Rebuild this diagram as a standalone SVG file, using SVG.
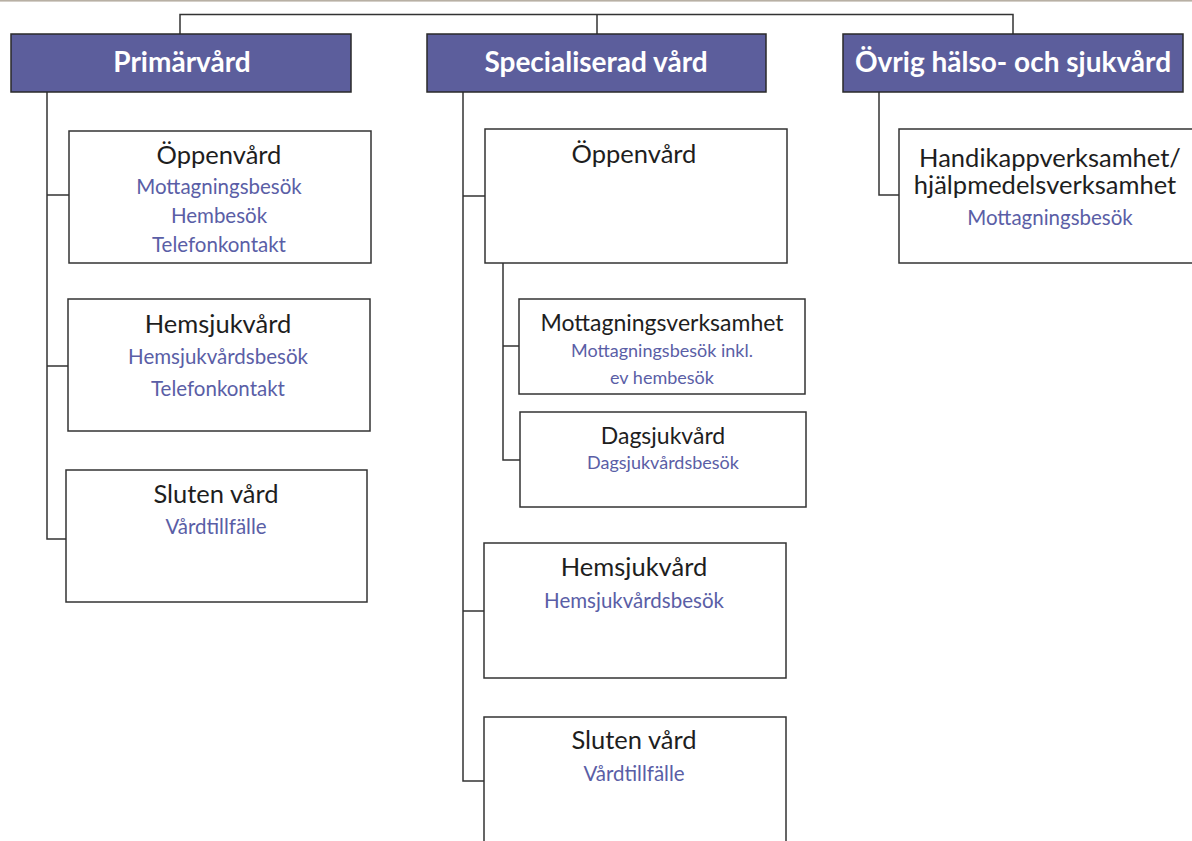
<svg xmlns="http://www.w3.org/2000/svg" width="1192" height="841" viewBox="0 0 1192 841">
<style>
.hdr{fill:#5c5e9c;stroke:#2a2a2a;stroke-width:1.5}
.hdrt{font-family:Lato,"Open Sans",sans-serif;font-weight:bold;font-size:28px;fill:#fff;text-anchor:middle}
.box{fill:#fff;stroke:#333;stroke-width:1.5}
.t{font-family:Lato,"Open Sans",sans-serif;font-size:25.5px;fill:#1e1e1e;text-anchor:middle}
.s{font-family:Lato,"Open Sans",sans-serif;font-size:20.5px;fill:#5a5ea6;text-anchor:middle}
.t2{font-family:Lato,"Open Sans",sans-serif;font-size:23px;fill:#1e1e1e;text-anchor:middle}
.s2{font-family:Lato,"Open Sans",sans-serif;font-size:18px;fill:#5a5ea6;text-anchor:middle}
.c{fill:none;stroke:#333;stroke-width:1.5}
</style>
<rect x="0" y="0" width="1192" height="841" fill="#fff"/>
<rect x="0" y="0" width="1192" height="1.6" fill="#b8b0a4"/>
<g id="connectors">
<path class="c" d="M180,34 V14.5 H1013 V34 M597,14.5 V34"/>
<path class="c" d="M47,92 V539 H66 M47,195 H69 M47,366 H68"/>
<path class="c" d="M463,92 V781 H484 M463,196 H485 M463,611 H484"/>
<path class="c" d="M503,263 V460 H520 M503,346 H519"/>
<path class="c" d="M879,92 V195 H899"/>
</g>
<g id="primarvard">
<rect class="hdr" x="11" y="34" width="340" height="58"/>
<text class="hdrt" x="182" y="72">Primärvård</text>
</g>
<g id="specialiserad">
<rect class="hdr" x="427" y="34" width="339" height="58"/>
<text class="hdrt" x="596" y="72">Specialiserad vård</text>
</g>
<g id="ovrig">
<rect class="hdr" x="843" y="34" width="340" height="58"/>
<text class="hdrt" x="1013" y="72">Övrig hälso- och sjukvård</text>
</g>
<g id="p-oppenvard">
<rect class="box" x="69" y="131" width="302" height="132"/>
<text class="t" x="219" y="164">Öppenvård</text>
<text class="s" x="219" y="194">Mottagningsbesök</text>
<text class="s" x="219" y="223">Hembesök</text>
<text class="s" x="219" y="252">Telefonkontakt</text>
</g>
<g id="p-hemsjukvard">
<rect class="box" x="68" y="299" width="302" height="132"/>
<text class="t" x="218" y="333">Hemsjukvård</text>
<text class="s" x="218" y="364">Hemsjukvårdsbesök</text>
<text class="s" x="218" y="396">Telefonkontakt</text>
</g>
<g id="p-sluten">
<rect class="box" x="66" y="470" width="301" height="132"/>
<text class="t" x="216" y="503">Sluten vård</text>
<text class="s" x="216" y="534">Vårdtillfälle</text>
</g>
<g id="s-oppenvard">
<rect class="box" x="485" y="129" width="302" height="134"/>
<text class="t" x="634" y="163">Öppenvård</text>
</g>
<g id="s-mottagning">
<rect class="box" x="519" y="299" width="286" height="95"/>
<text class="t2" x="662" y="331">Mottagningsverksamhet</text>
<text class="s2" x="662" y="357">Mottagningsbesök inkl.</text>
<text class="s2" x="662" y="384">ev hembesök</text>
</g>
<g id="s-dagsjukvard">
<rect class="box" x="520" y="412" width="286" height="95"/>
<text class="t2" x="663" y="444">Dagsjukvård</text>
<text class="s2" x="663" y="469">Dagsjukvårdsbesök</text>
</g>
<g id="s-hemsjukvard">
<rect class="box" x="484" y="543" width="302" height="135"/>
<text class="t" x="634" y="576">Hemsjukvård</text>
<text class="s" x="634" y="608">Hemsjukvårdsbesök</text>
</g>
<g id="s-sluten">
<rect class="box" x="484" y="717" width="302" height="140"/>
<text class="t" x="634" y="749">Sluten vård</text>
<text class="s" x="634" y="781">Vårdtillfälle</text>
</g>
<g id="o-handikapp">
<rect class="box" x="899" y="129" width="302" height="134"/>
<text class="t" x="1050" y="167" font-size="26">Handikappverksamhet/</text>
<text class="t" x="1045" y="194" font-size="26">hjälpmedelsverksamhet</text>
<text class="s" x="1050" y="225">Mottagningsbesök</text>
</g>
</svg>
